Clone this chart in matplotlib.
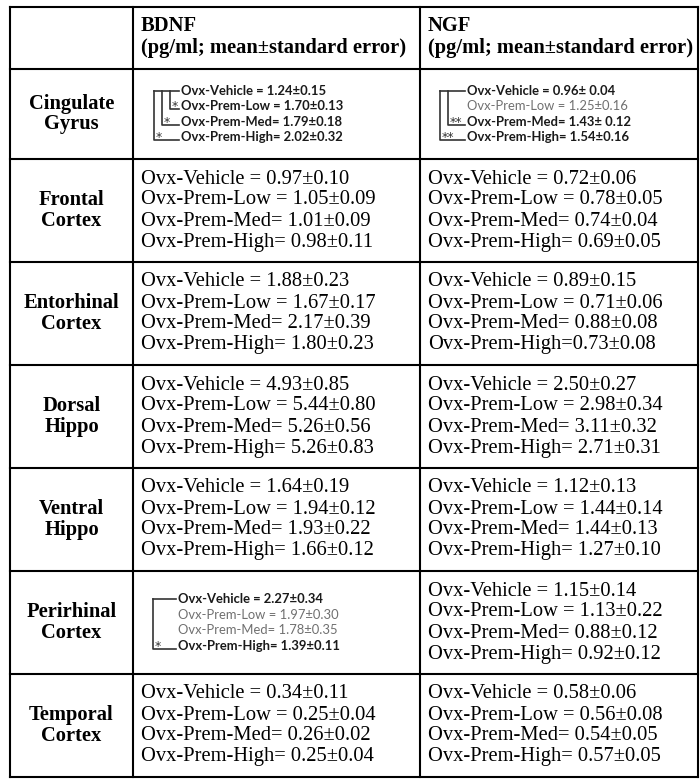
import matplotlib
matplotlib.use("Agg")
import matplotlib.pyplot as plt

# table contents
regions = ["Cingulate\nGyrus", "Frontal\nCortex", "Entorhinal\nCortex", "Dorsal\nHippo",
           "Ventral\nHippo", "Perirhinal\nCortex", "Temporal\nCortex"]
groups = ["Ovx-Vehicle = ", "Ovx-Prem-Low = ", "Ovx-Prem-Med= ", "Ovx-Prem-High= "]
headers = [("BDNF", "(pg/ml; mean\u00b1standard error)"),
           ("NGF", "(pg/ml; mean\u00b1standard error)")]

bdnf_mean = [[1.24, 1.70, 1.79, 2.02], [0.97, 1.05, 1.01, 0.98], [1.88, 1.67, 2.17, 1.80],
             [4.93, 5.44, 5.26, 5.26], [1.64, 1.94, 1.93, 1.66], [2.27, 1.97, 1.78, 1.39],
             [0.34, 0.25, 0.26, 0.25]]
bdnf_se = [[0.15, 0.13, 0.18, 0.32], [0.10, 0.09, 0.09, 0.11], [0.23, 0.17, 0.39, 0.23],
           [0.85, 0.80, 0.56, 0.83], [0.19, 0.12, 0.22, 0.12], [0.34, 0.30, 0.35, 0.11],
           [0.11, 0.04, 0.02, 0.04]]
ngf_mean = [[0.96, 1.25, 1.43, 1.54], [0.72, 0.78, 0.74, 0.69], [0.89, 0.71, 0.88, 0.73],
            [2.50, 2.98, 3.11, 2.71], [1.12, 1.44, 1.44, 1.27], [1.15, 1.13, 0.88, 0.92],
            [0.58, 0.56, 0.54, 0.57]]
ngf_se = [[0.04, 0.16, 0.12, 0.16], [0.06, 0.05, 0.04, 0.05], [0.15, 0.06, 0.08, 0.08],
          [0.27, 0.34, 0.32, 0.31], [0.13, 0.14, 0.13, 0.10], [0.14, 0.22, 0.12, 0.12],
          [0.06, 0.08, 0.05, 0.05]]

# cells pasted in as small pictures: (row, column) -> bold flags, significance brackets
inset_bold = {(0, 0): [True, True, True, True],
              (0, 1): [True, False, True, True],
              (5, 0): [True, False, False, True]}
inset_marks = {(0, 0): [(1, "*"), (2, "*"), (3, "*")],
               (0, 1): [(2, "**"), (3, "**")],
               (5, 0): [(3, "*")]}
inset_indent = {(0, 0): 48, (0, 1): 47, (5, 0): 45}
# odd spacing as printed
pm_space = {(0, 1, 0), (0, 1, 2)}
no_space = {(2, 1, 3)}

row_edges = [7, 69, 159, 262, 365, 468, 571, 674, 777]
col_edges = [10, 133, 420, 698]

serif = "Liberation Serif"
sans = "Lato"
fs = 14.8
pitch = 21.0
ink = "#333333"

fig = plt.figure(figsize=(7, 7.81), dpi=100)
ax = fig.add_axes([0, 0, 1, 1])
ax.set_xlim(0, 700)
ax.set_ylim(781, 0)
ax.axis("off")

# grid
for y in row_edges:
    ax.plot([col_edges[0], col_edges[-1]], [y, y], color="black", lw=1.5, solid_capstyle="projecting")
for x in col_edges:
    ax.plot([x, x], [row_edges[0], row_edges[-1]], color="black", lw=1.5, solid_capstyle="projecting")

# header
for c, (name, unit) in enumerate(headers):
    x0 = col_edges[c + 1] + 8
    ax.text(x0, 26, name, fontsize=fs, fontweight="bold", family=serif, va="center", ha="left")
    ax.text(x0, 48, unit, fontsize=fs, fontweight="bold", family=serif, va="center", ha="left")


def cell_line(r, c, i, m, s):
    sep = groups[i]
    if (r, c, i) in no_space:
        sep = sep.rstrip()
    pm = "\u00b1 " if (r, c, i) in pm_space else "\u00b1"
    return f"{sep}{m:.2f}{pm}{s:.2f}"


for r, region in enumerate(regions):
    top, bot = row_edges[r + 1], row_edges[r + 2]
    mid = (top + bot) / 2
    ax.text((col_edges[0] + col_edges[1]) / 2, mid, region, fontsize=fs, fontweight="bold",
            family=serif, ha="center", va="center", linespacing=1.05, multialignment="center")
    for c, (means, ses) in enumerate([(bdnf_mean, bdnf_se), (ngf_mean, ngf_se)]):
        lines = [cell_line(r, c, i, means[r][i], ses[r][i]) for i in range(4)]
        if (r, c) in inset_bold:
            # small sans-serif block with significance brackets
            p = 15.6
            tx = col_edges[c + 1] + inset_indent[(r, c)]
            ys = [mid - 1.5 * p + i * p for i in range(4)]
            for i, txt in enumerate(lines):
                bold = inset_bold[(r, c)][i]
                ax.text(tx, ys[i], txt, fontsize=9.4, family=sans,
                        fontweight="bold" if bold else "normal",
                        color="#1a1a1a" if bold else "#707070", ha="left", va="center")
            marks = inset_marks[(r, c)]
            n = len(marks)
            xr = tx - 2
            xv_out = tx - 27 if n > 1 else tx - 25
            for k, (j, star) in enumerate(marks):
                xv = xv_out + 8 * (n - 1 - k)
                yl = ys[j] + 3
                ax.plot([xv, xv, xr], [ys[0], yl, yl], color=ink, lw=1.2)
                ax.text(xv + 1.5, yl + 1, star, fontsize=9, family="DejaVu Sans", color=ink,
                        ha="left", va="baseline")
            ax.plot([xv_out, xr], [ys[0], ys[0]], color=ink, lw=1.2)
        else:
            x0 = col_edges[c + 1] + 8
            for i, txt in enumerate(lines):
                y = mid + (i - 1.5) * pitch
                ax.text(x0, y, txt, fontsize=fs, family=serif, ha="left", va="center")

fig.savefig("out.png", dpi=100)
